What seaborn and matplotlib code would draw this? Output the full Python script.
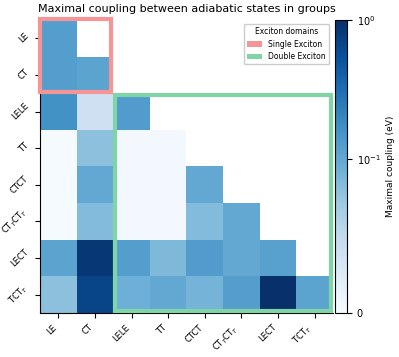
import numpy as np
import matplotlib
matplotlib.use('Agg')
import matplotlib.pyplot as plt
import matplotlib.colors as mcolors
from matplotlib.patches import Rectangle, Patch
import seaborn as sns

# State groups and maximal couplings (eV), lower triangle incl. diagonal
groups = ['LE', 'CT', 'LELE', 'TT', 'CTCT', r'CT$_T$CT$_T$', 'LECT', r'TCT$_T$']
row_LE = [0.126]
row_CT = [0.126, 0.11]
row_LELE = [0.16, 0.04, 0.13]
row_TT = [0.002, 0.08, 0.004, 0.004]
row_CTCT = [0.002, 0.10, 0.004, 0.004, 0.10]
row_CTTCTT = [0.002, 0.084, 0.004, 0.004, 0.084, 0.10]
row_LECT = [0.11, 0.87, 0.126, 0.086, 0.13, 0.10, 0.115]
row_TCTT = [0.08, 0.69, 0.094, 0.10, 0.09, 0.126, 1.0, 0.11]
rows = [row_LE, row_CT, row_LELE, row_TT, row_CTCT, row_CTTCTT, row_LECT, row_TCTT]

n = len(groups)
data = np.zeros((n, n))
for i, r in enumerate(rows):
    data[i, :len(r)] = r
mask = np.triu(np.ones((n, n), dtype=bool), k=1)

fig = plt.figure(figsize=(3.99, 3.57), dpi=100)
ax = fig.add_axes([0.1003, 0.1232, 0.734, 0.821])
cax = fig.add_axes([0.8396, 0.1232, 0.030, 0.821])

norm = mcolors.SymLogNorm(linthresh=0.1, linscale=1, vmin=0, vmax=1, base=10)
sns.heatmap(data, mask=mask, cmap='Blues', norm=norm, ax=ax, cbar_ax=cax,
            xticklabels=groups, yticklabels=groups,
            cbar_kws={'label': 'Maximal coupling (eV)'})

# domain boxes
ax.add_patch(Rectangle((0.0, -0.03), 1.95, 2.0, fill=False, edgecolor='#f59595',
                       lw=3, clip_on=False, zorder=5))
ax.add_patch(Rectangle((2.06, 2.06), 5.88, 5.88, fill=False, edgecolor='#80d4a8',
                       lw=3, clip_on=False, zorder=5))

handles = [Patch(facecolor='#f59595', label='Single Exciton'),
           Patch(facecolor='#80d4a8', label='Double Exciton')]
ax.legend(handles=handles, title='Exciton domains', loc='upper right',
          fontsize=5.5, title_fontsize=5.5, framealpha=1)

ax.set_title('Maximal coupling between adiabatic states in groups', fontsize=8)
ax.tick_params(labelsize=6)
plt.setp(ax.get_xticklabels(), rotation=45, ha='right')
plt.setp(ax.get_yticklabels(), rotation=45, ha='right', va='center')
for side in ['left', 'bottom']:
    ax.spines[side].set_visible(True)
    ax.spines[side].set_color('black')

cbar = ax.collections[0].colorbar
cbar.outline.set_linewidth(0.8)
cbar.outline.set_edgecolor('black')
cbar.set_ticks([0, 0.1, 1])
cbar.set_ticklabels(['0', r'$10^{-1}$', r'$10^{0}$'])
cbar.ax.minorticks_off()
cbar.ax.tick_params(labelsize=7)
cbar.set_label('Maximal coupling (eV)', fontsize=6.5, labelpad=4)

fig.savefig('out.png', dpi=100)
